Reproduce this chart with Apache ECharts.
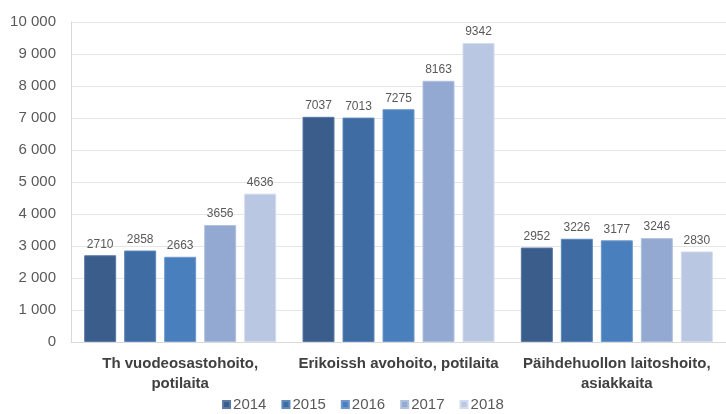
<!DOCTYPE html>
<html><head><meta charset="utf-8">
<script src="https://cdn.jsdelivr.net/npm/echarts@6/dist/echarts.min.js"></script>
<style>html,body{margin:0;padding:0;background:#fff}#c{width:726px;height:414px}</style>
</head><body><div id="c"></div>
<script>
const categories = ["Th vuodeosastohoito,\npotilaita", "Erikoissh avohoito, potilaita", "Päihdehuollon laitoshoito,\nasiakkaita"];
const years = ["2014", "2015", "2016", "2017", "2018"];
const v2014 = [2710, 7037, 2952];
const v2015 = [2858, 7013, 3226];
const v2016 = [2663, 7275, 3177];
const v2017 = [3656, 8163, 3246];
const v2018 = [4636, 9342, 2830];
const values = [v2014, v2015, v2016, v2017, v2018];
const colors = ["#3a5d8c", "#3f6da3", "#4a7fbd", "#94a9d1", "#b9c7e3"];
const borders = ["#5a7aa5", "#5c88ba", "#6e98cc", "#b0c1de", "#d3dcee"];

const chart = echarts.init(document.getElementById('c'));
chart.setOption({
  animation: false,
  textStyle: { fontFamily: 'Liberation Sans, Arial, sans-serif' },
  grid: { left: 71, right: 0, top: 22, bottom: 72 },
  legend: {
    top: 397, left: 'center', itemWidth: 7, itemHeight: 7, itemGap: 15,
    icon: 'rect', padding: 0,
    textStyle: { color: '#595959', fontSize: 15, padding: [0, 0, 0, -2] },
    data: years
  },
  xAxis: {
    type: 'category', data: categories,
    axisLine: { show: true, lineStyle: { color: '#d9d9d9' } },
    axisTick: { show: false },
    axisLabel: { color: '#404040', fontSize: 15, fontWeight: 'bold', margin: 12, lineHeight: 20, interval: 0 }
  },
  yAxis: {
    type: 'value', min: 0, max: 10000, interval: 1000,
    axisLine: { show: true, lineStyle: { color: '#d9d9d9' } },
    splitLine: { lineStyle: { color: '#e6e6e6' } },
    axisLabel: { color: '#595959', fontSize: 15, margin: 15,
      formatter: v => String(v).replace(/\B(?=(\d{3})+(?!\d))/g, ' ') }
  },
  series: years.map((y, i) => ({
    name: y, type: 'bar', data: values[i], barWidth: 32, barGap: '25%',
    itemStyle: { color: colors[i], borderColor: borders[i], borderWidth: 1 },
    label: { show: true, position: 'top', color: '#595959', fontSize: 12, distance: 5 }
  }))
});
</script></body></html>
